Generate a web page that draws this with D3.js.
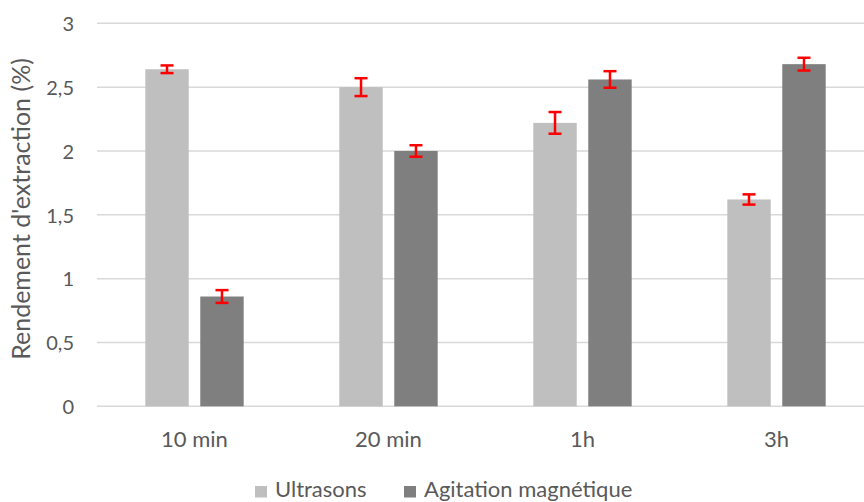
<!DOCTYPE html>
<html><head><meta charset="utf-8">
<script src="https://cdn.jsdelivr.net/npm/d3@7"></script>
<style>body{margin:0;background:#fff}svg{display:block}text{font-family:Lato,"Open Sans",sans-serif;fill:#595959}</style>
</head><body>
<svg id="c" width="864" height="502"></svg>
<script>
const categories = ["10 min", "20 min", "1h", "3h"];
const seriesNames = ["Ultrasons", "Agitation magnétique"];
const ultrasons = [2.64, 2.50, 2.22, 1.62];
const agitation = [0.86, 2.00, 2.56, 2.68];
const errUltrasons = [0.03, 0.07, 0.085, 0.04];
const errAgitation = [0.05, 0.045, 0.065, 0.05];
const yTicks = [0, 0.5, 1, 1.5, 2, 2.5, 3];
const colors = ["#bfbfbf", "#7f7f7f"];

const svg = d3.select("#c");
const x0 = d3.scaleBand().domain(categories).range([97.5, 873.5]).paddingInner(0).paddingOuter(0);
const x1 = d3.scaleBand().domain(seriesNames).range([0, x0.bandwidth()]).paddingInner(0.21).paddingOuter(0.87);
const y = d3.scaleLinear().domain([0, 3]).range([406.3, 23.3]);
const fmt = v => String(v).replace(".", ",");

// gridlines
svg.append("g").selectAll("line").data(yTicks).join("line")
  .attr("x1", 97).attr("x2", 864)
  .attr("y1", d => y(d)).attr("y2", d => y(d))
  .attr("stroke", "#d9d9d9").attr("stroke-width", 1.5);

// y axis labels
const yAxis = d3.axisLeft(y).tickValues(yTicks).tickFormat(fmt).tickSize(0).tickPadding(0);
const ga = svg.append("g").attr("transform", "translate(74,0)").call(yAxis);
ga.select(".domain").remove();
ga.selectAll("text").style("font-size", "20px").attr("fill", "#595959").attr("font-family", "Lato").attr("dy", "0.36em");

// y title
svg.append("text").attr("transform", "translate(30,209) rotate(-90)")
  .attr("text-anchor", "middle").style("font-size", "25px").text("Rendement d'extraction (%)");

const data = categories.map((c, i) => ({c, vals: [
  {s: seriesNames[0], v: ultrasons[i], e: errUltrasons[i]},
  {s: seriesNames[1], v: agitation[i], e: errAgitation[i]}]}));

const groups = svg.append("g").selectAll("g").data(data).join("g")
  .attr("transform", d => `translate(${x0(d.c)},0)`);
groups.selectAll("rect").data(d => d.vals).join("rect")
  .attr("x", d => x1(d.s)).attr("width", x1.bandwidth())
  .attr("y", d => y(d.v)).attr("height", d => y(0) - y(d.v))
  .attr("fill", (d, i) => colors[i]);

// error bars
const eb = groups.selectAll("g.err").data(d => d.vals).join("g").attr("class", "err");
eb.append("line")
  .attr("x1", d => x1(d.s) + x1.bandwidth() / 2).attr("x2", d => x1(d.s) + x1.bandwidth() / 2)
  .attr("y1", d => y(d.v + d.e)).attr("y2", d => y(d.v - d.e))
  .attr("stroke", "#ff0000").attr("stroke-width", 2.5);
["+", "-"].forEach(sgn => {
  eb.append("line")
    .attr("x1", d => x1(d.s) + x1.bandwidth() / 2 - 6.5).attr("x2", d => x1(d.s) + x1.bandwidth() / 2 + 6.5)
    .attr("y1", d => y(sgn === "+" ? d.v + d.e : d.v - d.e)).attr("y2", d => y(sgn === "+" ? d.v + d.e : d.v - d.e))
    .attr("stroke", "#ff0000").attr("stroke-width", 2.5);
});

// x labels
svg.append("g").selectAll("text").data(categories).join("text")
  .attr("x", d => x0(d) + x0.bandwidth() / 2).attr("y", 447)
  .attr("text-anchor", "middle").style("font-size", "22px").text(d => d);

// legend
const legend = svg.append("g");
const lx = [255, 404];
seriesNames.forEach((s, i) => {
  legend.append("rect").attr("x", lx[i]).attr("y", 486).attr("width", 12).attr("height", 11.5).attr("fill", colors[i]);
  legend.append("text").attr("x", lx[i] + 20).attr("y", 497).style("font-size", "22px").text(s);
});
</script>
</body></html>
